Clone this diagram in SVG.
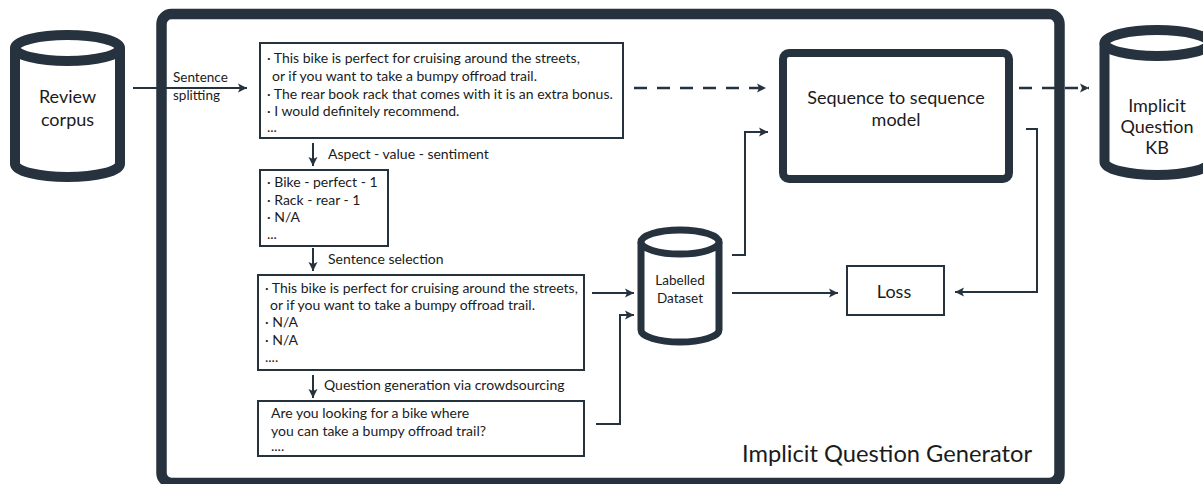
<svg xmlns="http://www.w3.org/2000/svg" width="1203" height="484" viewBox="0 0 1203 484">
<style>
.t{font-family:"Lato","Liberation Sans",sans-serif;fill:#1b1b1b}
.s{font-size:14px}
.m{font-size:18px;text-anchor:middle}
.box{fill:#fff;stroke:#26333f;stroke-width:2}
.cyl{fill:#fff;stroke:#26333f}
.c{fill:none;stroke:#26333f;stroke-width:2}
.d{fill:none;stroke:#26333f;stroke-width:2.5;stroke-dasharray:13 10}
</style>
<defs>
<marker id="ah" markerUnits="userSpaceOnUse" markerWidth="10" markerHeight="10" refX="9" refY="5" orient="auto">
<path d="M0,0.5 L9,5 L0,9.5 L2,5 z" fill="#26333f"/>
</marker>
</defs>
<rect width="1203" height="484" fill="#fff"/>
<g id="generator">
<rect x="161.5" y="14" width="898" height="469" rx="10" fill="#fff" stroke="#26333f" stroke-width="10.5"/>
<text class="t" x="742" y="462" style="font-size:23.7px">Implicit Question Generator</text>
</g>
<g id="review-corpus">
<path class="cyl" stroke-width="10" d="M15,48 V164 A52.5,13 0 0 0 120,164 V48"/>
<ellipse class="cyl" stroke-width="10" cx="67.5" cy="48" rx="52.5" ry="13"/>
<text class="t m" x="67.5" y="103">Review</text>
<text class="t m" x="67.5" y="126">corpus</text>
</g>
<g id="kb">
<path class="cyl" stroke-width="10" d="M1104.5,43 V162 A52.5,13 0 0 0 1209.5,162 V43"/>
<ellipse class="cyl" stroke-width="10" cx="1157" cy="43" rx="52.5" ry="13"/>
<text class="t m" x="1157" y="112">Implicit</text>
<text class="t m" x="1157" y="133">Question</text>
<text class="t m" x="1157" y="154">KB</text>
</g>
<g id="sentences">
<rect class="box" x="260" y="43" width="363" height="95"/>
<text class="t s" x="267" y="63">· This bike is perfect for cruising around the streets,</text>
<text class="t s" x="272" y="81">or if you want to take a bumpy offroad trail.</text>
<text class="t s" x="267" y="99">· The rear book rack that comes with it is an extra bonus.</text>
<text class="t s" x="267" y="116">· I would definitely recommend.</text>
<text class="t s" x="267" y="132">...</text>
</g>
<g id="aspects">
<rect class="box" x="260" y="170" width="128" height="76"/>
<text class="t s" x="267" y="187">· Bike - perfect - 1</text>
<text class="t s" x="267" y="205">· Rack - rear - 1</text>
<text class="t s" x="267" y="222">· N/A</text>
<text class="t s" x="267" y="239">...</text>
</g>
<g id="selected">
<rect class="box" x="258" y="275" width="326" height="95"/>
<text class="t s" x="265" y="293">· This bike is perfect for cruising around the streets,</text>
<text class="t s" x="270" y="310">or if you want to take a bumpy offroad trail.</text>
<text class="t s" x="265" y="327">· N/A</text>
<text class="t s" x="265" y="345">· N/A</text>
<text class="t s" x="265" y="362">....</text>
</g>
<g id="questions">
<rect class="box" x="258" y="401" width="326" height="55"/>
<text class="t s" x="271" y="418">Are you looking for a bike where</text>
<text class="t s" x="271" y="436">you can take a bumpy offroad trail?</text>
<text class="t s" x="271" y="451">....</text>
</g>
<g id="labelled-dataset">
<path class="cyl" stroke-width="7" d="M641,242 V330 A39,12 0 0 0 719,330 V242"/>
<ellipse class="cyl" stroke-width="7" cx="680" cy="242" rx="39" ry="12"/>
<text class="t" x="680" y="285" style="font-size:13.5px;text-anchor:middle">Labelled</text>
<text class="t" x="680" y="303" style="font-size:13.5px;text-anchor:middle">Dataset</text>
</g>
<g id="seq2seq">
<rect x="783" y="53" width="226" height="126" rx="6" fill="#fff" stroke="#26333f" stroke-width="8"/>
<text class="t m" x="896" y="104">Sequence to sequence</text>
<text class="t m" x="896" y="126">model</text>
</g>
<g id="loss">
<rect class="box" x="847" y="266" width="97" height="49"/>
<text class="t m" x="894" y="298">Loss</text>
</g>
<g id="connectors">
<line class="c" x1="133" y1="88" x2="247" y2="88" marker-end="url(#ah)"/>
<text class="t" x="173" y="82" style="font-size:13.5px">Sentence</text>
<text class="t" x="173" y="100" style="font-size:13.5px">splitting</text>
<line class="c" x1="313" y1="143" x2="313" y2="166" marker-end="url(#ah)"/>
<text class="t s" x="328" y="159">Aspect - value - sentiment</text>
<line class="c" x1="313" y1="248" x2="313" y2="271" marker-end="url(#ah)"/>
<text class="t s" x="328" y="264">Sentence selection</text>
<line class="c" x1="313" y1="375" x2="313" y2="398" marker-end="url(#ah)"/>
<text class="t s" x="324" y="390">Question generation via crowdsourcing</text>
<line class="c" x1="592" y1="293" x2="634" y2="293" marker-end="url(#ah)"/>
<polyline class="c" points="596,424 620,424 620,315 634,315" marker-end="url(#ah)"/>
<polyline class="c" points="732,255 745,255 745,132 768,132" marker-end="url(#ah)"/>
<line class="c" x1="732" y1="293" x2="838" y2="293" marker-end="url(#ah)"/>
<polyline class="c" points="1026,129 1037,129 1037,292 955,292" marker-end="url(#ah)"/>
<line class="d" x1="634" y1="88" x2="766" y2="88" marker-end="url(#ah)"/>
<line class="d" x1="1019" y1="88" x2="1089" y2="88" marker-end="url(#ah)"/>
</g>
</svg>
